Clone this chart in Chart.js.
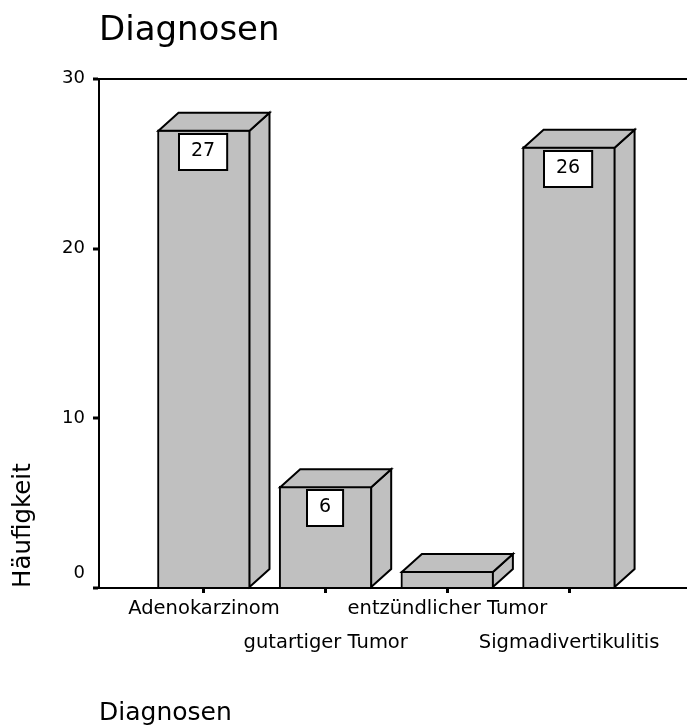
<!DOCTYPE html>
<html>
<head>
<meta charset="utf-8">
<script src="https://cdn.jsdelivr.net/npm/chart.js@4/dist/chart.umd.min.js"></script>
<style>
  html, body { margin: 0; padding: 0; background: #ffffff; }
  #wrap { width: 687px; height: 726px; position: relative; }
</style>
</head>
<body>
<div id="wrap"><canvas id="c"></canvas></div>
<script>
// ---- data ----
const chartTitle = 'Diagnosen';
const categories = ['Adenokarzinom', 'gutartiger Tumor', 'entzündlicher Tumor', 'Sigmadivertikulitis'];
const counts = [27, 6, 1, 26];
const yTicks = [0, 10, 20, 30];
const xAxisTitle = 'Diagnosen';
const yAxisTitle = 'Häufigkeit';

const FONT = 'DejaVu Sans';
const GREY = '#c0c0c0';

// 3D faces + value boxes
const bar3d = {
  id: 'bar3d',
  afterDatasetsDraw(chart) {
    const ctx = chart.ctx;
    const meta = chart.getDatasetMeta(0);
    const dx = 20, dy = 18;
    ctx.save();
    ctx.lineWidth = 2;
    ctx.strokeStyle = '#000';
    ctx.fillStyle = GREY;
    ctx.lineJoin = 'miter';
    meta.data.forEach((bar) => {
      const p = bar.getProps(['x', 'y', 'base', 'width'], true);
      const L = p.x - p.width / 2, R = p.x + p.width / 2;
      const top = p.y, base = p.base;
      // side face
      ctx.beginPath();
      ctx.moveTo(R - 1, base);
      ctx.lineTo(R - 1 + dx, base - dy);
      ctx.lineTo(R - 1 + dx, top - dy + 1);
      ctx.lineTo(R - 1, top + 1);
      ctx.closePath();
      ctx.fill(); ctx.stroke();
      // top face
      ctx.beginPath();
      ctx.moveTo(L + 1, top + 1);
      ctx.lineTo(L + 1 + dx, top - dy + 1);
      ctx.lineTo(R - 1 + dx, top - dy + 1);
      ctx.lineTo(R - 1, top + 1);
      ctx.closePath();
      ctx.fill(); ctx.stroke();
    });
    // value boxes
    ctx.font = '19px "' + FONT + '"';
    ctx.textAlign = 'center';
    ctx.textBaseline = 'middle';
    meta.data.forEach((bar, i) => {
      const p = bar.getProps(['x', 'y', 'base', 'width'], true);
      if (p.base - p.y < 50) return;
      const txt = String(counts[i]);
      const w = ctx.measureText(txt).width + 24;
      const h = 36;
      const bx = Math.round(p.x - 1 - w / 2), by = Math.round(p.y + 4);
      ctx.fillStyle = '#fff';
      ctx.fillRect(bx, by, w, h);
      ctx.strokeStyle = '#000';
      ctx.lineWidth = 2;
      ctx.strokeRect(bx, by, w, h);
      ctx.fillStyle = '#000';
      ctx.fillText(txt, bx + w / 2, by + h / 2 - 1);
    });
    ctx.restore();
  }
};

new Chart(document.getElementById('c'), {
  type: 'bar',
  data: {
    datasets: [{
      data: counts.map((v, i) => ({ x: i, y: v })),
      backgroundColor: GREY,
      borderColor: '#000',
      borderWidth: 2,
      barThickness: 93
    }]
  },
  options: {
    responsive: true,
    maintainAspectRatio: false,
    animation: false,
    layout: { padding: 0 },
    plugins: {
      legend: { display: false },
      tooltip: { enabled: false },
      title: {
        display: true,
        text: chartTitle,
        align: 'start',
        fullSize: false,
        color: '#000',
        font: { family: FONT, size: 34, weight: 'normal', lineHeight: 1.2 },
        padding: { top: 11, bottom: 27 }
      }
    },
    scales: {
      x: {
        type: 'linear',
        offset: false,
        min: -0.8628,
        max: 3.969,
        border: { display: true, color: '#000', width: 2 },
        grid: { offset: false, drawOnChartArea: false, drawTicks: true, tickLength: 5, tickWidth: 3, tickColor: '#000', color: '#000' },
        ticks: {
          stepSize: 1,
          includeBounds: false,
          autoSkip: false,
          maxRotation: 0,
          minRotation: 0,
          padding: -1,
          color: '#000',
          font: { family: FONT, size: 19.5, lineHeight: '34px' },
          callback: (v) => {
            if (!Number.isInteger(v) || v < 0 || v >= categories.length) return '';
            return v % 2 === 0 ? [categories[v]] : ['', categories[v]];
          }
        },
        title: {
          display: true,
          text: xAxisTitle,
          align: 'start',
          color: '#000',
          font: { family: FONT, size: 25, lineHeight: 1 },
          padding: { top: 0, bottom: 0 }
        },
        afterFit: (s) => { s.height = 138; }
      },
      y: {
        min: 0,
        max: 30,
        border: { display: true, color: '#000', width: 2 },
        grid: {
          drawOnChartArea: true,
          color: (c) => (c.tick && c.tick.value === 30 ? '#000' : 'rgba(0,0,0,0)'),
          lineWidth: 2,
          tickColor: '#000',
          tickLength: 6,
          tickWidth: 3
        },
        afterBuildTicks: (s) => { s.ticks = yTicks.map(v => ({ value: v })); },
        ticks: {
          padding: 8,
          color: '#000',
          font: { family: FONT, size: 18, lineHeight: '30px' },
          callback: (v) => (v === 0 ? ['0', ''] : String(v))
        },
        title: {
          display: true,
          text: yAxisTitle,
          align: 'start',
          color: '#000',
          font: { family: FONT, size: 24.5, lineHeight: 1 },
          padding: { top: 11, bottom: 0 }
        },
        afterFit: (s) => { s.width = 99; }
      }
    }
  },
  plugins: [bar3d]
});
</script>
</body>
</html>
